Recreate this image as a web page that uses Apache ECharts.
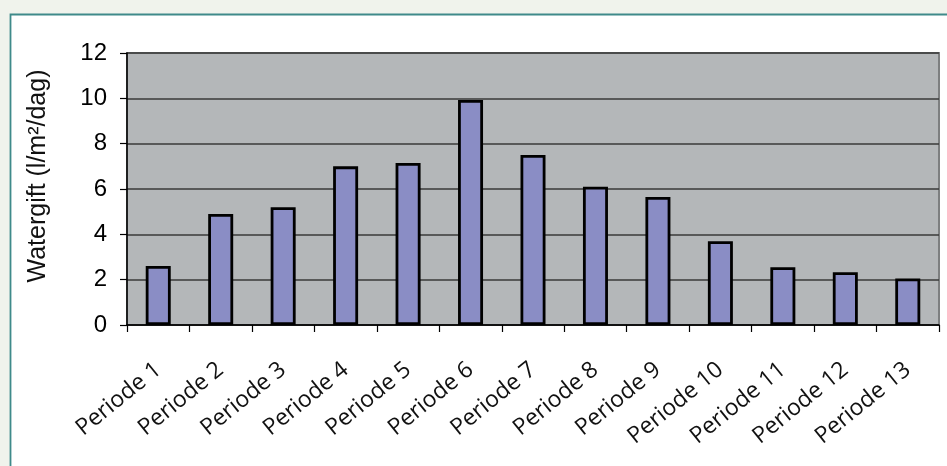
<!DOCTYPE html>
<html>
<head>
<meta charset="utf-8">
<script src="https://cdn.jsdelivr.net/npm/echarts@6/dist/echarts.min.js"></script>
<style>
  html, body { margin: 0; padding: 0; background: #f0f3ec; }
  #chart { width: 947px; height: 466px; }
</style>
</head>
<body>
<div id="chart"></div>
<script>
// Water supply per period (l/m²/day)
const periods = ['Periode 1', 'Periode 2', 'Periode 3', 'Periode 4', 'Periode 5', 'Periode 6', 'Periode 7',
                 'Periode 8', 'Periode 9', 'Periode 10', 'Periode 11', 'Periode 12', 'Periode 13'];
const watergift = [2.6, 4.9, 5.2, 7.0, 7.15, 9.93, 7.5, 6.1, 5.65, 3.7, 2.55, 2.33, 2.05];
const yTicks = { min: 0, max: 12, interval: 2 };

const chart = echarts.init(document.getElementById('chart'), null, { renderer: 'canvas' });

chart.setOption({
  backgroundColor: '#f0f3ec',
  animation: false,
  graphic: [
    {
      type: 'rect',
      z: -10,
      shape: { x: 10.5, y: 14.5, width: 960, height: 480 },
      style: { fill: '#ffffff', stroke: '#3f8a8a', lineWidth: 1.8 }
    }
  ],
  grid: {
    left: 127, right: 8, top: 53, bottom: 141,
    show: true,
    backgroundColor: '#b4b7b9',
    borderColor: '#7d7f80',
    borderWidth: 2
  },
  xAxis: {
    type: 'category',
    data: periods,
    axisLine: { lineStyle: { color: '#000', width: 1.5 } },
    axisTick: { show: true, length: 7, lineStyle: { color: '#000', width: 1.2 } },
    axisLabel: {
      rotate: 39,
      margin: 42,
      color: '#111',
      fontFamily: 'Open Sans',
      fontSize: 23,
      interval: 0
    }
  },
  yAxis: {
    type: 'value',
    min: yTicks.min, max: yTicks.max, interval: yTicks.interval,
    name: 'Watergift (l/m²/dag)',
    nameLocation: 'middle',
    nameGap: 76,
    nameRotate: 90,
    nameTextStyle: {
      color: '#111',
      fontFamily: 'Liberation Sans',
      fontSize: 25,
      padding: [0, 0, 0, 26]
    },
    axisLine: { show: true, lineStyle: { color: '#000', width: 1.5 } },
    axisTick: { show: true, length: 7, lineStyle: { color: '#000', width: 1.2 } },
    axisLabel: {
      margin: 20,
      color: '#000',
      fontFamily: 'Liberation Sans',
      fontSize: 24
    },
    splitLine: { show: true, lineStyle: { color: '#3a3a3a', width: 1.6 } }
  },
  series: [
    {
      type: 'bar',
      data: watergift,
      barWidth: 25,
      itemStyle: {
        color: '#8a8dc5',
        borderColor: '#000',
        borderWidth: 2.8
      }
    }
  ]
});
</script>
</body>
</html>
